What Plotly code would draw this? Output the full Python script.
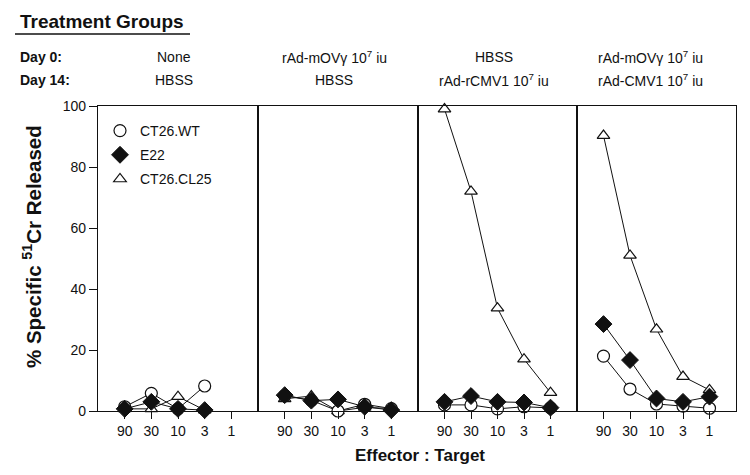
import plotly.graph_objects as go

W, H = 750, 475

ratios = ["90", "30", "10", "3", "1"]
y_ticks = [0, 20, 40, 60, 80, 100]

day0 = ["None", "rAd-mOVγ 10<sup>7</sup> iu", "HBSS", "rAd-mOVγ 10<sup>7</sup> iu"]
day14 = ["HBSS", "HBSS", "rAd-rCMV1 10<sup>7</sup> iu", "rAd-CMV1 10<sup>7</sup> iu"]

# % specific release per panel, in ratio order 90..1 (None = not measured)
wt = [
    [1.4, 5.8, 0.7, 8.2, None],
    [5.0, 3.5, 0.0, 2.2, 0.8],
    [2.0, 2.0, 0.7, 1.4, 1.0],
    [18.0, 7.2, 2.3, 1.6, 0.9],
]
e22 = [
    [0.7, 3.0, 0.7, 0.3, None],
    [5.2, 3.4, 3.8, 1.4, 0.3],
    [3.0, 4.9, 3.0, 2.8, 1.1],
    [28.5, 16.7, 4.1, 3.0, 4.7],
]
cl25 = [
    [0.7, 0.7, 4.7, 0.3, None],
    [4.0, 4.9, 0.0, 1.2, 0.8],
    [99.0, 72.0, 33.7, 17.0, 6.0],
    [90.3, 51.0, 26.8, 11.3, 6.9],
]

series = [
    ("CT26.CL25", cl25, dict(symbol="triangle-up", size=11, color="white", line=dict(color="#111", width=1.2))),
    ("CT26.WT", wt, dict(symbol="circle", size=12, color="white", line=dict(color="#111", width=1.2))),
    ("E22", e22, dict(symbol="diamond", size=13, color="#111", line=dict(color="#111", width=1))),
]

# panel geometry in pixels
x_edges = [98, 258, 418, 577, 736]
y_bot, y_top = 411, 106
col_centers = [174, 334, 494, 650]

fig = go.Figure()

for i in range(4):
    suffix = "" if i == 0 else str(i + 1)
    for name, values, marker in series:
        fig.add_trace(go.Scatter(
            x=ratios, y=values[i], mode="lines+markers",
            line=dict(color="#111", width=1), marker=marker,
            cliponaxis=False, showlegend=False,
            xaxis="x" + suffix, yaxis="y" + suffix,
        ))

    dom_x = [x_edges[i] / W, x_edges[i + 1] / W]
    dom_y = [1 - y_bot / H, 1 - y_top / H]
    fig.layout["xaxis" + suffix] = dict(
        domain=dom_x, type="category", categoryorder="array", categoryarray=ratios,
        range=[-1, 5], showline=True, mirror=True, linecolor="#111", linewidth=1.3,
        ticks="outside", ticklen=7, tickcolor="#111", showgrid=False, zeroline=False,
        tickfont=dict(size=14, color="#111", family="Liberation Sans"),
        anchor="y" + suffix, fixedrange=True, automargin=False,
    )
    fig.layout["yaxis" + suffix] = dict(
        domain=dom_y, range=[0, 100], tickvals=y_ticks, showline=True, mirror=True,
        linecolor="#111", linewidth=1.3, showgrid=False, zeroline=False,
        ticks="outside" if i == 0 else "", ticklen=8, tickcolor="#111",
        showticklabels=(i == 0),
        tickfont=dict(size=14, color="#111", family="Liberation Sans"),
        anchor="x" + suffix, fixedrange=True, automargin=False,
    )

# legend-only entries (symbol without line)
for k, (name, _, marker) in enumerate([series[1], series[2], series[0]]):
    fig.add_trace(go.Scatter(
        x=[None], y=[None], mode="markers", name=name, marker=marker,
        legendgroup=str(k), showlegend=True,
    ))

annotations = [
    dict(x=18, y=22, text="<b>Treatment Groups</b>", xanchor="left", font=dict(size=19)),
    dict(x=18, y=57, text="<b>Day 0:</b>", xanchor="left", font=dict(size=14)),
    dict(x=18, y=80, text="<b>Day 14:</b>", xanchor="left", font=dict(size=14)),
    dict(x=420, y=455, text="<b>Effector : Target</b>", xanchor="center", font=dict(size=17)),
    dict(x=32, y=247, text="<b>% Specific <sup>51</sup>Cr Released</b>", xanchor="center",
         textangle=-90, font=dict(size=20.5)),
]
for i in range(4):
    annotations.append(dict(x=col_centers[i], y=57, text=day0[i], xanchor="center", font=dict(size=14)))
    annotations.append(dict(x=col_centers[i], y=80, text=day14[i], xanchor="center", font=dict(size=14)))

fig.update_layout(
    annotations=[
        dict(a, xref="paper", yref="paper", x=a["x"] / W, y=1 - a["y"] / H, showarrow=False,
             yanchor="middle", font=dict(family="Liberation Sans", color="#111", **a["font"]))
        for a in annotations
    ],
    shapes=[dict(type="line", xref="paper", yref="paper", x0=15 / W, x1=190 / W,
                 y0=1 - 34 / H, y1=1 - 34 / H, line=dict(color="#111", width=1.3))],
    legend=dict(
        x=100 / W, y=1 - 115 / H, xanchor="left", yanchor="top",
        bgcolor="rgba(0,0,0,0)", font=dict(size=14, color="#111", family="Liberation Sans"),
        traceorder="grouped", tracegroupgap=3, itemwidth=30,
    ),
    width=W, height=H,
    margin=dict(l=0, r=0, t=0, b=0, pad=0, autoexpand=False),
    paper_bgcolor="white", plot_bgcolor="white",
)

# drop the default page margin so the figure sits at the window origin
fig.write_html(
    "out.html",
    config={"displayModeBar": False},
    post_script="document.body.style.margin='0';",
)
